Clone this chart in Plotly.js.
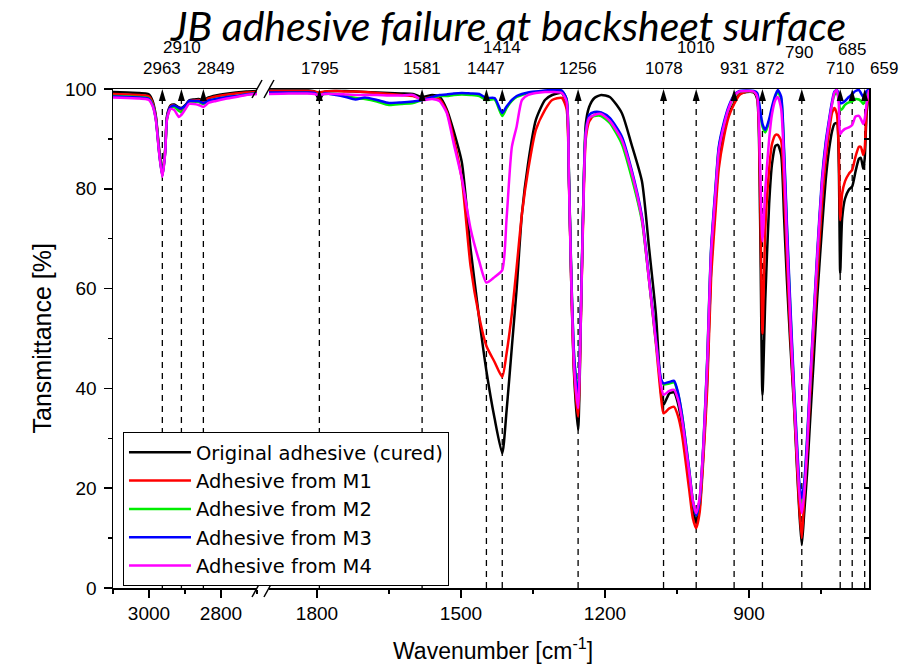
<!DOCTYPE html>
<html><head><meta charset="utf-8">
<script src="https://cdn.plot.ly/plotly-3.0.1.min.js"></script>
<style>html,body{margin:0;padding:0;background:#fff;} #chart{width:913px;height:666px;}</style>
</head><body><div id="chart"></div>
<script>
// ---------- DATA ----------
const wnLeft = [3100, 3060, 3030, 3010, 3000, 2990, 2981, 2972, 2963, 2955, 2950, 2940, 2930, 2917, 2910, 2897, 2889, 2875, 2862, 2849, 2835, 2814, 2790, 2758, 2730, 2700];

const wnRight = [1900, 1860, 1820, 1805, 1795, 1785, 1760, 1740, 1720, 1700,
  1675, 1650, 1625, 1600, 1581, 1560, 1545, 1530, 1515, 1498,
  1480, 1462, 1447, 1430, 1414, 1405, 1394, 1384, 1373, 1360,
  1344, 1325, 1310, 1290, 1280, 1275, 1270, 1264, 1256, 1250,
  1245, 1240, 1233, 1222, 1208, 1190, 1165, 1145, 1123, 1108,
  1094, 1083, 1078, 1066, 1056, 1048, 1040, 1025, 1017, 1010,
  1003, 995, 987, 979, 970, 963, 952, 942, 931, 920,
  905, 890, 883, 877, 872, 866, 858, 852, 845, 840,
  833, 827, 821, 814, 806, 800, 795, 790, 785, 779,
  773, 765, 758, 748, 740, 733, 727, 722, 717, 713,
  710, 706, 700, 692, 685, 678, 671, 667, 662, 659, 655, 650];

const originalLeft = [99.4, 99.3, 99.2, 99.1, 98.9, 97.6, 94.6, 88.0, 83.2, 88.0, 94.6, 96.7, 96.9, 96.3, 96.2, 96.9, 97.7, 97.9, 98.0, 97.7, 98.3, 98.7, 99.0, 99.3, 99.5, 99.6];
const m1Left = [99.0, 98.9, 98.8, 98.7, 98.5, 97.2, 94.3, 87.7, 82.9, 87.7, 94.3, 96.5, 96.7, 96.0, 95.9, 96.7, 97.5, 97.7, 97.8, 97.5, 98.1, 98.5, 98.8, 99.1, 99.3, 99.4];
const m2Left = [98.6, 98.5, 98.4, 98.3, 98.1, 96.9, 94.0, 87.4, 82.6, 87.4, 94.0, 96.2, 96.4, 95.6, 95.4, 96.4, 97.2, 97.4, 97.4, 97.0, 97.6, 98.0, 98.3, 98.6, 98.9, 99.1];
const m3Left = [98.5, 98.4, 98.3, 98.2, 98.0, 96.8, 94.0, 87.4, 82.6, 87.4, 94.2, 96.4, 96.7, 96.2, 96.1, 96.8, 97.6, 97.6, 97.6, 97.2, 97.7, 98.0, 98.3, 98.6, 98.9, 99.1];
const m4Left = [98.3, 98.2, 98.1, 98.0, 97.8, 96.6, 93.8, 87.2, 82.4, 87.2, 94.0, 96.0, 95.8, 94.4, 94.8, 96.2, 97.0, 97.0, 96.8, 96.4, 97.2, 97.6, 98.0, 98.4, 98.8, 99.0];

const originalRight = [99.7, 99.7, 99.7, 99.5, 97.8, 99.4, 99.6, 99.6, 99.5, 99.4,
  99.3, 99.2, 99.1, 99.0, 98.4, 98.8, 98.5, 96.0, 91.5, 85.2,
  68, 54, 43.5, 34, 27, 35.5, 48.3, 60, 75, 85.2,
  93.8, 97.8, 98.8, 99.2, 97.0, 82, 60, 42, 31.7, 55,
  78, 93, 96.4, 98.2, 98.8, 98.4, 95.2, 89, 81.5, 68,
  55, 39, 36.7, 39, 39.2, 37, 33, 22, 16, 13,
  16, 27, 42, 64, 77, 85.5, 91.5, 95, 97.2, 99.0,
  99.4, 99.3, 98, 75, 38.7, 58, 77, 85, 88.6, 88.8,
  86.8, 74.5, 61.7, 49, 36, 24, 15, 8.6, 15, 23,
  33, 46, 58, 72, 82, 88, 91.5, 93, 93.2, 85,
  63.1, 74, 78, 79.8, 80.5, 83.5, 86, 86.2, 84, 86, 95, 99.8];

const m1Right = [99.6, 99.6, 99.6, 99.5, 99.3, 99.5, 99.6, 99.5, 99.5, 99.4,
  99.2, 99.0, 98.8, 98.6, 98.0, 98.4, 98.0, 95.6, 90, 81.8,
  64.5, 54.3, 48.5, 45.3, 42.3, 47, 55, 64.3, 75, 83.8,
  91.8, 95.8, 97.8, 98.2, 96.0, 81, 60, 43, 34.3, 55,
  76, 90, 93.5, 94.8, 95.2, 93.5, 89.5, 83, 74, 61.5,
  49, 38, 35, 36, 36.3, 34.5, 31, 20, 14, 12,
  15, 26, 40, 62, 75, 84, 90.5, 94.5, 97, 98.8,
  99.5, 99.4, 98.5, 80, 51, 72, 84, 89, 90.8, 90.8,
  89.6, 80, 66, 51, 37, 25, 16, 10, 18, 27,
  38, 51, 62, 77, 86, 91.5, 95.2, 96.2, 95, 88,
  73.7, 79, 81.5, 83, 83.8, 86.5, 88.4, 88.4, 86.8, 88, 96, 99.8];

const m2Right = [99.1, 99.2, 99.2, 99.1, 98.9, 99.0, 99.0, 98.6, 98.2, 98.0,
  97.5, 96.8, 97.0, 97.2, 97.8, 98.2, 98.6, 98.6, 98.8, 98.9,
  98.8, 98.6, 97.8, 97.9, 94.6, 96.2, 97.6, 98.4, 98.8, 99.2,
  99.4, 99.6, 99.7, 99.6, 98.0, 82, 62, 46, 38.5, 57,
  78, 91.5, 94.3, 94.6, 94.6, 93.2, 89, 82.5, 73.5, 61.5,
  49.5, 41.5, 40.8, 41, 41.2, 39, 35, 24, 17.5, 14.5,
  17.5, 28.5, 45.5, 67.5, 79.5, 88, 93, 96.2, 98.5, 99.5,
  99.6, 99.5, 99, 95.5, 92.5, 91.3, 93.5, 96, 98.5, 99.4,
  98, 87, 72, 56, 39, 28, 20, 17, 20, 29,
  40, 54, 66, 81, 89, 93.5, 97, 98.8, 99.3, 98,
  95.8, 96, 96.8, 97.3, 97.5, 98, 97.9, 97.6, 97, 97.5, 99, 99.8];

const m3Right = [99.3, 99.3, 99.3, 99.2, 98.6, 99.1, 98.8, 98.4, 97.9, 98.3,
  97.8, 97.2, 97.3, 97.5, 97.8, 98.4, 98.8, 98.9, 99.1, 99.2,
  99.1, 99.0, 98.2, 98.2, 95.2, 96.5, 97.8, 98.6, 99.0, 99.3,
  99.5, 99.7, 99.8, 99.7, 98.0, 82, 62, 46, 38, 57,
  78, 91.5, 94.8, 95.4, 95.3, 94.2, 90.5, 84, 74.5, 62,
  50, 41.8, 41, 41.3, 41.5, 39.2, 35, 24, 17.5, 14.5,
  17.5, 29, 46, 68, 80, 88.4, 93.4, 96.6, 98.8, 99.6,
  99.7, 99.6, 99.2, 96, 93, 91.8, 94, 96.5, 98.8, 99.8,
  98.5, 88, 73, 57, 40, 29, 21, 18, 21, 30,
  41, 55, 67, 82, 89.5, 94, 97.5, 99.5, 99.8, 99,
  97.2, 97.2, 97.6, 98.4, 99, 99.6, 99.8, 99.2, 98.4, 98.8, 99.6, 99.9];

const m4Right = [99.0, 99.1, 99.1, 99.0, 98.8, 99.0, 99.0, 98.9, 98.8, 98.8,
  98.8, 98.7, 98.7, 98.8, 97.8, 98.0, 97.6, 95.3, 89, 82,
  72, 65.5, 61.2, 62.3, 63.7, 74, 88.4, 92.5, 97.8, 98.8,
  99.2, 99.4, 99.4, 99.2, 97.5, 81, 61, 44, 36, 56,
  77, 91, 94.2, 94.8, 95.0, 93.6, 89.8, 83.5, 74, 61.5,
  49.5, 40.5, 38.7, 39.5, 39.7, 37.8, 34, 23.5, 17.5, 15,
  18, 28.5, 45, 67, 79, 87.5, 92.8, 96.2, 98.6, 99.5,
  99.6, 99.5, 98.5, 85, 69.5, 80, 90, 95, 97.8, 98.4,
  96, 85, 70, 54, 38, 27, 19, 15, 19, 28,
  40, 54, 66, 81, 88.5, 93.5, 97, 99.3, 99.8, 97,
  91, 91.5, 92, 92.3, 92.8, 94.5, 94.6, 94, 93, 94, 97, 99.8];

const seriesNames = ['Original adhesive (cured)', 'Adhesive from M1', 'Adhesive from M2', 'Adhesive from M3', 'Adhesive from M4'];
const leftValues = [originalLeft, m1Left, m2Left, m3Left, m4Left];
const rightValues = [originalRight, m1Right, m2Right, m3Right, m4Right];

const peaksLeft = [2963, 2910, 2849];
const peaksRight = [1795, 1581, 1447, 1414, 1256, 1078, 1010, 931, 872, 790, 710, 685, 659];

// ---------- STYLE ----------
const seriesColors = ['#000000', '#ff0000', '#00ee00', '#0000ff', '#ff00ff'];
const labelLevelLeft = [0, 1, 0];
const labelShiftLeft = [0, 1, 13];
const labelLevelRight = [0, 0, 0, 1, 0, 0, 1, 0, 0, 2, 0, 3, 0];
const labelShiftRight = [1, 0, 0, 0, 0, 0, 0, 0, 8, -3, 0, 0, 19];
const levelY = [1.0401, 1.0822, 1.0741, 1.0782];
const FONT = 'Liberation Sans, Arial, sans-serif';

const traces = [];
for (let i = 0; i < seriesNames.length; i++) {
  traces.push({
    x: wnRight, y: rightValues[i], xaxis: 'x2', yaxis: 'y2', type: 'scatter', mode: 'lines',
    name: seriesNames[i], legendgroup: 'g' + i,
    line: {color: seriesColors[i], width: 2.5, shape: 'spline', smoothing: 0.6},
    hoverinfo: 'skip'
  });
  traces.push({
    x: wnLeft, y: leftValues[i], xaxis: 'x', yaxis: 'y', type: 'scatter', mode: 'lines',
    name: seriesNames[i], legendgroup: 'g' + i, showlegend: false,
    line: {color: seriesColors[i], width: 2.5, shape: 'spline', smoothing: 0.6},
    hoverinfo: 'skip'
  });
}

const shapes = [];
const annotations = [];
function addPeak(p, xr, yr, level, shift) {
  shapes.push({type: 'line', xref: xr, yref: yr, x0: p, x1: p, y0: 0, y1: 97.6, layer: 'between',
    line: {color: 'black', width: 1.3, dash: '6px,5px'}});
  shapes.push({type: 'path', xref: xr, yref: yr, xsizemode: 'pixel', ysizemode: 'pixel',
    xanchor: p, yanchor: 100, path: 'M0,0 L-3.5,-12 L3.5,-12 Z',
    fillcolor: 'black', line: {width: 0}, layer: 'above'});
  annotations.push({xref: xr, yref: 'paper', x: p, y: levelY[level], text: String(p), showarrow: false,
    xshift: shift, xanchor: 'center', yanchor: 'middle', font: {family: FONT, size: 17, color: 'black'}});
}
peaksLeft.forEach((p, k) => addPeak(p, 'x', 'y', labelLevelLeft[k], labelShiftLeft[k]));
peaksRight.forEach((p, k) => addPeak(p, 'x2', 'y2', labelLevelRight[k], labelShiftRight[k]));

// axis break marks
[[0.1905, 0], [0.1905, 1], [0.2063, 0], [0.2063, 1]].forEach(([px, py]) => {
  shapes.push({type: 'path', xref: 'paper', yref: 'paper', xsizemode: 'pixel', ysizemode: 'pixel',
    xanchor: px, yanchor: py, path: 'M-5,-9 L5,9', line: {color: 'black', width: 1.5}, layer: 'above'});
});

annotations.push({xref: 'paper', yref: 'paper', x: 0.503, y: -0.1222, text: 'Wavenumber [cm<sup>-1</sup>]',
  showarrow: false, xanchor: 'center', yanchor: 'middle', font: {family: FONT, size: 23, color: 'black'}});
annotations.push({xref: 'paper', yref: 'paper', x: -0.094, y: 0.5, text: 'Tansmittance [%]', textangle: -90,
  showarrow: false, xanchor: 'center', yanchor: 'middle', font: {family: FONT, size: 25, color: 'black'}});

const axCommon = {showgrid: false, zeroline: false, showline: true, linecolor: 'black', linewidth: 1.5,
  ticks: 'outside', ticklen: 8, tickwidth: 1.5, tickcolor: 'black',
  tickfont: {family: FONT, size: 19, color: 'black'}};

const layout = {
  width: 913, height: 666,
  margin: {l: 113, r: 44, t: 89, b: 78},
  paper_bgcolor: 'white', plot_bgcolor: 'white',
  showlegend: true,
  title: {text: 'JB adhesive failure at backsheet surface', xref: 'container', yref: 'container',
    x: 0.557, y: 0.9605, xanchor: 'center', yanchor: 'middle',
    font: {family: 'Lato, Open Sans, sans-serif', size: 41, style: 'italic', color: 'black'}},
  xaxis: Object.assign({}, axCommon, {domain: [0, 0.1905], range: [3100, 2700], anchor: 'y',
    tick0: 0, dtick: 200, mirror: true,
    minor: {dtick: 100, ticks: 'outside', ticklen: 4, tickwidth: 1.5, tickcolor: 'black'}}),
  xaxis2: Object.assign({}, axCommon, {domain: [0.2063, 1], range: [1900, 650], anchor: 'y2',
    tick0: 0, dtick: 300, mirror: true,
    minor: {dtick: 150, ticks: 'outside', ticklen: 4, tickwidth: 1.5, tickcolor: 'black'}}),
  yaxis: Object.assign({}, axCommon, {range: [0, 100], anchor: 'x', dtick: 20, ticklabelstandoff: 3,
    minor: {dtick: 10, ticks: 'outside', ticklen: 4, tickwidth: 1.5, tickcolor: 'black'}}),
  yaxis2: Object.assign({}, axCommon, {range: [0, 100], anchor: 'x2', side: 'right', dtick: 20,
    ticks: 'inside', ticklen: 5, showticklabels: false,
    minor: {dtick: 10, ticks: 'inside', ticklen: 5, tickwidth: 1.5, tickcolor: 'black'}}),
  legend: {x: 0.0132, y: 0.3126, xanchor: 'left', yanchor: 'top', bgcolor: 'white',
    bordercolor: 'black', borderwidth: 1, itemwidth: 62, tracegroupgap: 0,
    font: {family: 'DejaVu Sans, Liberation Sans, sans-serif', size: 19.5, color: 'black'}},
  shapes: shapes,
  annotations: annotations
};

Plotly.newPlot('chart', traces, layout, {displayModeBar: false, staticPlot: true});
</script>
</body></html>
